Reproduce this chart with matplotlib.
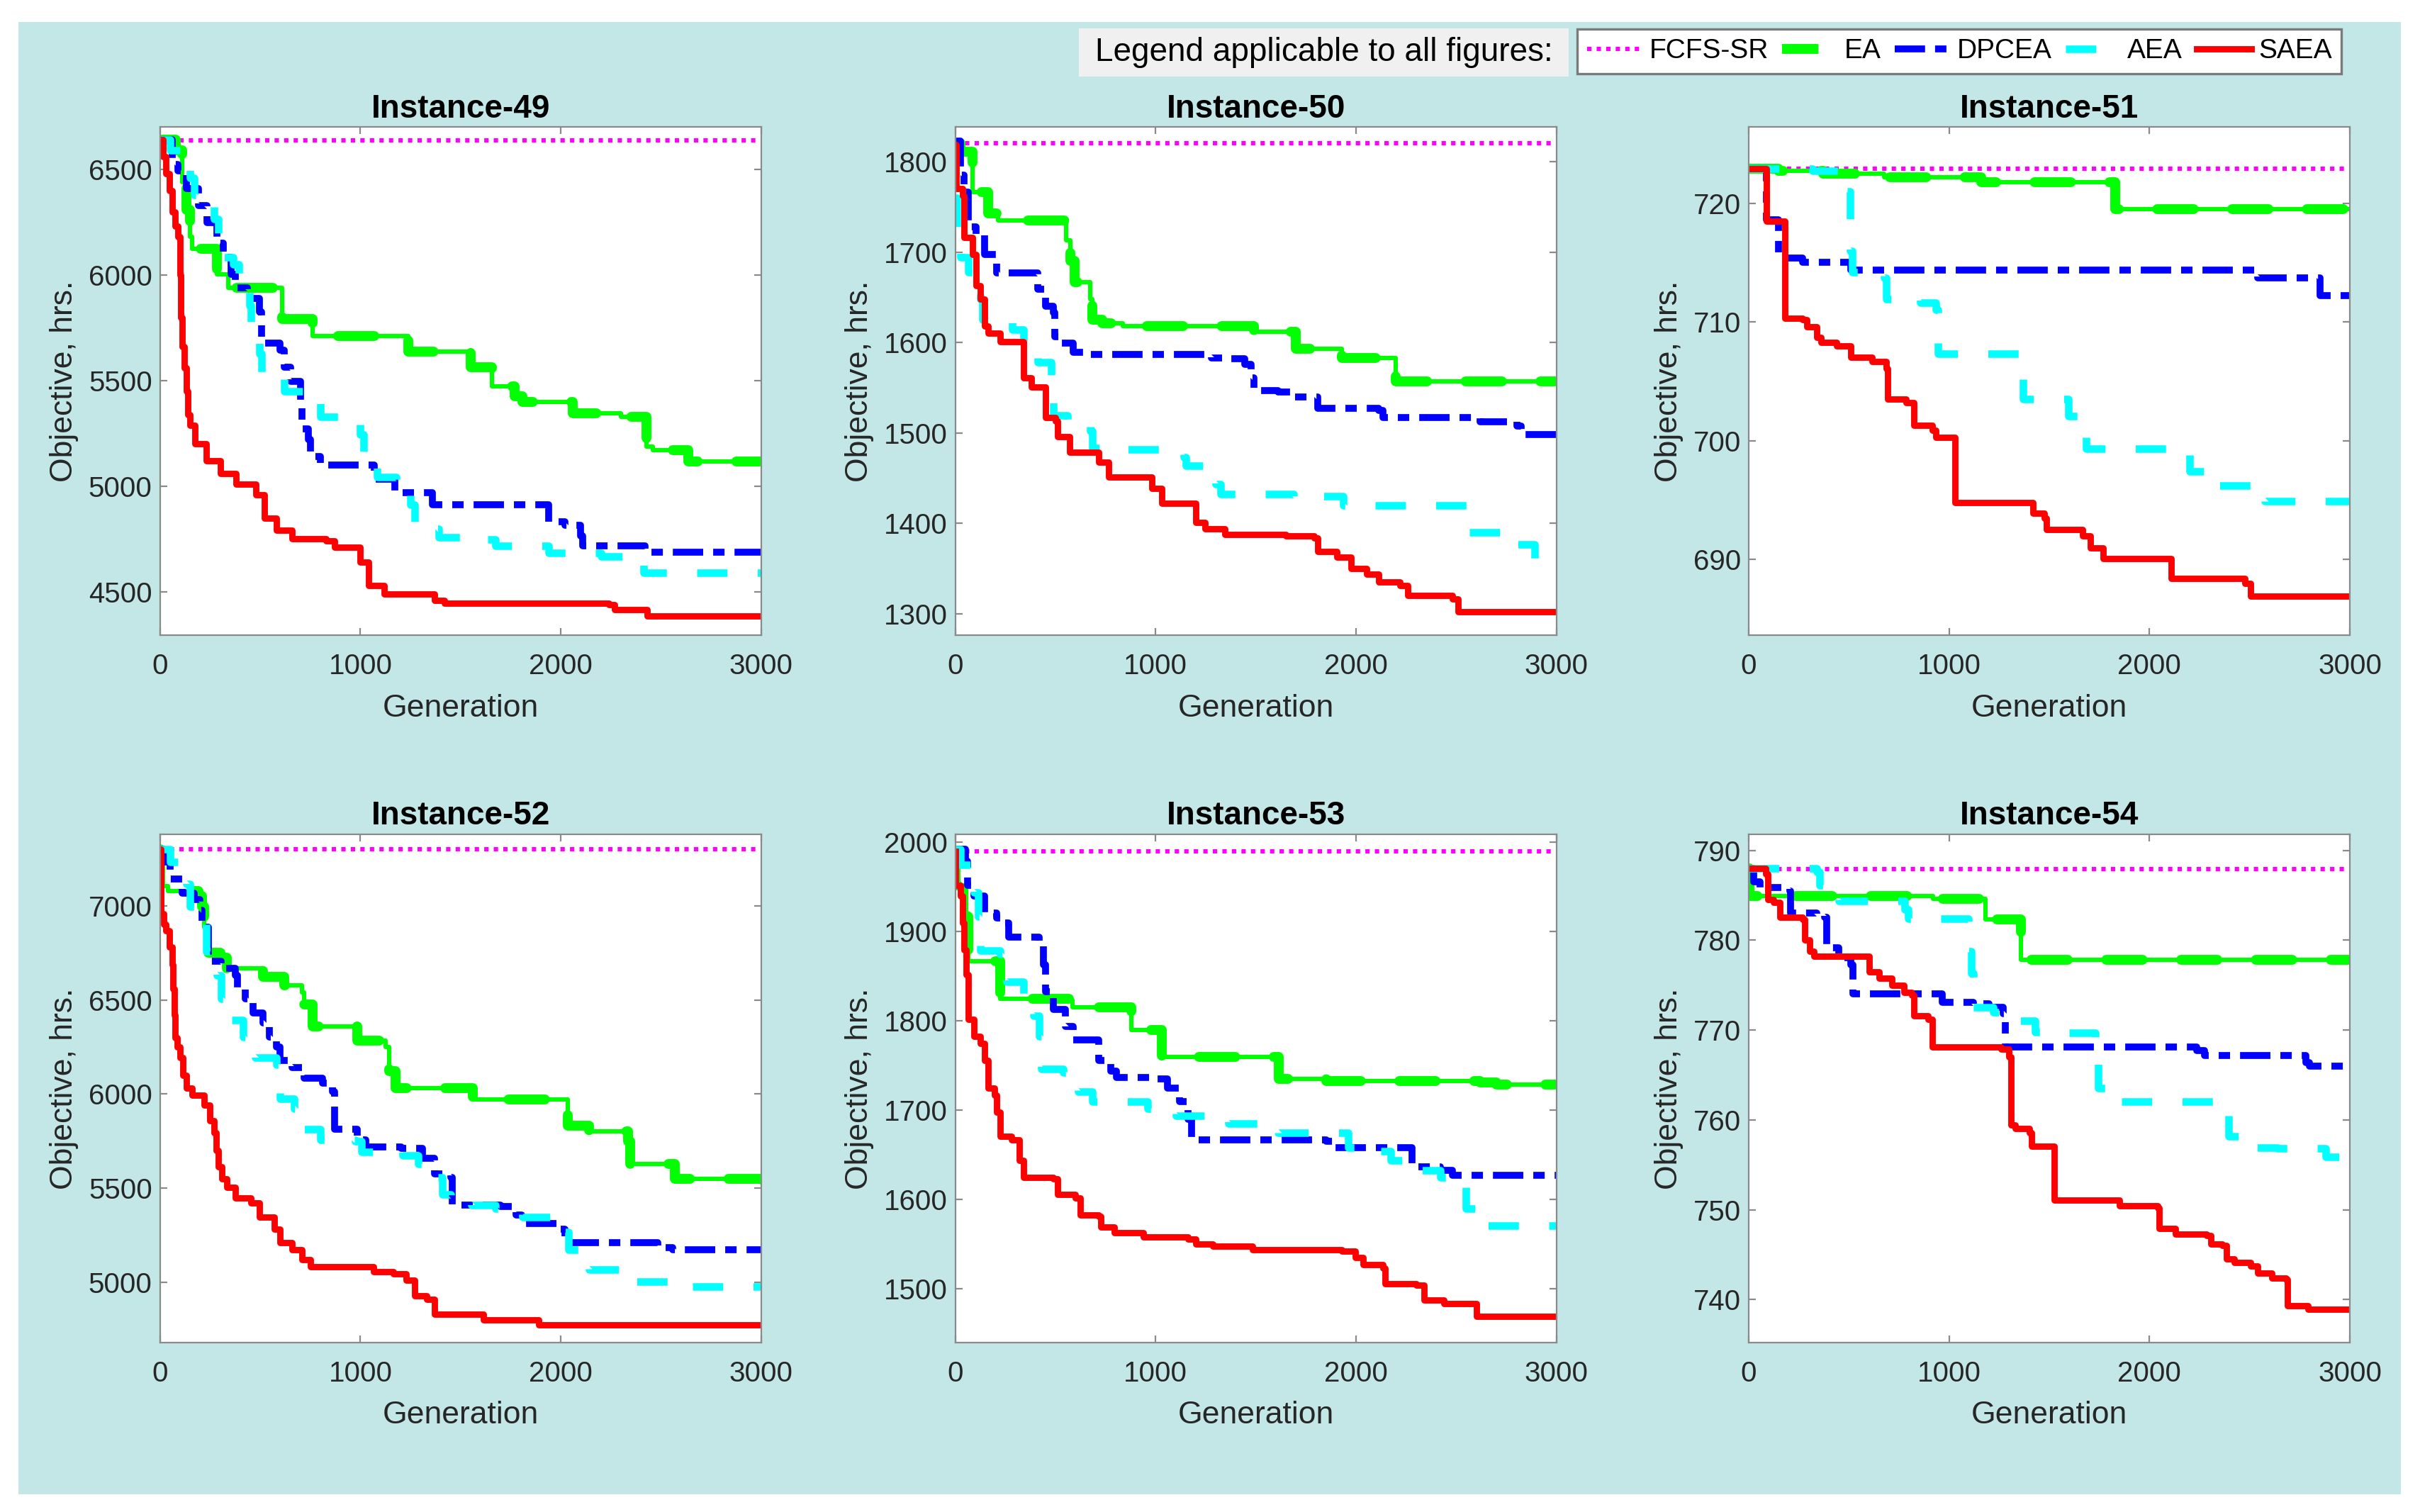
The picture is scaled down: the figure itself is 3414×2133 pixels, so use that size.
import matplotlib
matplotlib.use('Agg')
import matplotlib.pyplot as plt
from matplotlib.lines import Line2D
from matplotlib.patches import Rectangle

plt.rcParams['font.family'] = ['Liberation Sans', 'DejaVu Sans']

gen_ticks = [0, 1000, 2000, 3000]
series_names = ['FCFS-SR', 'EA', 'DPCEA', 'AEA', 'SAEA']

# ---------------- Instance-49 ----------------
fcfs_49 = 6638
ea_49_x = [0, 80, 110, 130, 150, 160, 285, 340, 610, 760, 1240, 1550, 1655, 1770, 1810, 2060, 2300, 2427, 2460, 2635, 3000]
ea_49_y = [6640, 6590, 6440, 6310, 6180, 6125, 6003, 5938, 5792, 5710, 5637, 5563, 5474, 5425, 5400, 5344, 5330, 5189, 5172, 5116, 5116]
dpcea_49_x = [0, 60, 90, 130, 190, 235, 285, 315, 355, 375, 435, 495, 505, 600, 620, 650, 700, 710, 740, 750, 800,
              1070, 1170, 1360, 1940, 2020, 2100, 2110, 2420, 3000]
dpcea_49_y = [6640, 6524, 6492, 6410, 6329, 6248, 6150, 6085, 6003, 5938, 5889, 5824, 5678, 5645, 5563, 5498, 5401, 5270, 5222, 5140, 5099,
              5034, 4969, 4912, 4831, 4815, 4766, 4717, 4688, 4688]
aea_49_x = [0, 50, 150, 170, 270, 290, 305, 365, 395, 445, 455, 495, 505, 620, 720, 800, 1000, 1015, 1085, 1180,
            1250, 1270, 1390, 1530, 1675, 1940, 2200, 2330, 2415, 3000]
aea_49_y = [6640, 6590, 6460, 6378, 6264, 6166, 6085, 6052, 5970, 5857, 5743, 5629, 5515, 5450, 5425, 5327, 5246, 5123, 5042, 5010,
            4912, 4798, 4757, 4749, 4717, 4684, 4668, 4660, 4590, 4590]
saea_49_x = [0, 15, 30, 45, 60, 75, 90, 100, 105, 110, 120, 130, 140, 150, 175, 230, 300, 380, 480, 520, 580, 660, 830, 870,
             1000, 1040, 1120, 1370, 1420, 2240, 2270, 2430, 3000]
saea_49_y = [6640, 6560, 6480, 6400, 6300, 6230, 6180, 6000, 5800, 5660, 5560, 5450, 5340, 5290, 5200, 5120, 5060, 5010, 4960, 4850, 4790, 4750, 4740, 4710,
             4640, 4530, 4490, 4460, 4445, 4440, 4415, 4385, 4385]

# ---------------- Instance-50 ----------------
fcfs_50 = 1820
ea_50_x = [0, 25, 85, 165, 215, 555, 575, 595, 675, 685, 735, 835, 1490, 1700, 1930, 2200, 3000]
ea_50_y = [1820, 1811, 1766, 1743, 1735, 1713, 1690, 1667, 1648, 1625, 1621, 1618, 1612, 1593, 1583, 1557, 1557]
dpcea_50_x = [0, 25, 45, 65, 105, 145, 205, 410, 450, 490, 495, 530, 590, 675, 1280, 1365, 1445, 1475, 1490, 1610,
              1670, 1810, 2115, 2135, 2620, 2805, 2825, 3000]
dpcea_50_y = [1823, 1785, 1766, 1728, 1720, 1697, 1677, 1659, 1640, 1633, 1606, 1599, 1589, 1587, 1583, 1582, 1576, 1561, 1547, 1545,
              1540, 1527, 1525, 1517, 1512, 1508, 1498, 1498]
aea_50_x = [0, 10, 25, 65, 125, 135, 285, 340, 410, 480, 490, 560, 675, 685, 735, 1140, 1150, 1300, 1325, 1690,
            1935, 2560, 2800, 2890, 3000]
aea_50_y = [1760, 1724, 1694, 1678, 1648, 1625, 1614, 1602, 1578, 1561, 1519, 1515, 1502, 1483, 1482, 1473, 1464, 1443, 1432, 1430,
            1420, 1390, 1377, 1358, 1358]
saea_50_x = [0, 5, 35, 45, 85, 105, 125, 145, 165, 225, 340, 380, 450, 500, 510, 570, 715, 765, 980, 1030, 1200, 1245,
             1345, 1650, 1790, 1810, 1905, 1975, 2055, 2115, 2220, 2260, 2480, 2510, 3000]
saea_50_y = [1819, 1770, 1762, 1716, 1697, 1663, 1648, 1618, 1610, 1601, 1561, 1551, 1517, 1513, 1496, 1479, 1468, 1451, 1439, 1422, 1401, 1394,
             1388, 1386, 1384, 1369, 1363, 1350, 1344, 1335, 1331, 1320, 1316, 1302, 1302]

# ---------------- Instance-51 ----------------
fcfs_51 = 722.9
ea_51_x = [0, 150, 370, 675, 1160, 1830, 3000]
ea_51_y = [722.9, 722.7, 722.5, 722.2, 721.8, 719.5, 719.5]
dpcea_51_x = [0, 90, 150, 270, 510, 2540, 2850, 3000]
dpcea_51_y = [722.9, 718.6, 715.4, 715.0, 714.4, 713.7, 712.2, 712.2]
aea_51_x = [0, 320, 490, 505, 515, 675, 685, 855, 935, 945, 1350, 1370, 1595, 1665, 1685, 2200, 2315, 2575, 3000]
aea_51_y = [722.9, 722.7, 721.0, 716.0, 714.2, 713.7, 711.9, 711.6, 711.0, 707.3, 705.2, 703.5, 702.1, 700.3, 699.3, 697.4, 696.2, 694.9, 694.9]
saea_51_x = [0, 90, 180, 270, 290, 340, 360, 440, 510, 615, 685, 695, 785, 825, 915, 935, 1030, 1420, 1475, 1485,
             1665, 1705, 1770, 2110, 2475, 2505, 3000]
saea_51_y = [722.9, 718.5, 710.3, 710.2, 709.6, 708.7, 708.3, 708.0, 707.0, 706.7, 706.1, 703.5, 703.2, 701.3, 700.9, 700.3, 694.8, 693.9, 693.5, 692.5,
             692.0, 691.0, 690.1, 688.4, 688.0, 686.9, 686.9]

# ---------------- Instance-52 ----------------
fcfs_52 = 7302
ea_52_x = [0, 2, 40, 190, 210, 220, 240, 300, 335, 515, 620, 710, 720, 760, 985, 1125, 1145, 1175, 1560, 2035, 2140,
           2335, 2345, 2570, 3000]
ea_52_y = [7302, 7105, 7078, 7051, 6996, 6887, 6750, 6723, 6669, 6623, 6577, 6541, 6477, 6359, 6286, 6250, 6122, 6031, 5970, 5831, 5803,
           5749, 5630, 5550, 5545]
dpcea_52_x = [0, 20, 50, 110, 170, 200, 210, 240, 305, 375, 385, 425, 465, 515, 545, 580, 600, 660, 720, 810, 860, 870,
              985, 1025, 1205, 1310, 1370, 1450, 1460, 1700, 1775, 1805, 1990, 2020, 2485, 2560, 3000]
dpcea_52_y = [7302, 7233, 7142, 7069, 7033, 6978, 6887, 6705, 6669, 6632, 6559, 6505, 6432, 6377, 6304, 6250, 6177, 6140, 6086, 6058, 6013, 5812,
              5758, 5721, 5712, 5658, 5576, 5557, 5412, 5403, 5357, 5312, 5284, 5211, 5184, 5175, 5175]
aea_52_x = [0, 50, 130, 150, 210, 230, 285, 305, 355, 415, 475, 580, 600, 670, 720, 800, 975, 1005, 1210, 1290, 1370,
            1410, 1450, 1555, 1675, 1810, 2000, 2040, 2140, 2375, 2650, 3000]
aea_52_y = [7302, 7233, 7115, 6996, 6923, 6760, 6632, 6505, 6395, 6304, 6195, 6158, 5976, 5922, 5812, 5758, 5749, 5694, 5676, 5630, 5557,
            5466, 5457, 5412, 5393, 5348, 5266, 5175, 5066, 5002, 4978, 4978]
saea_52_x = [0, 5, 20, 30, 45, 60, 65, 70, 75, 85, 100, 115, 130, 160, 220, 250, 270, 280, 290, 310, 335, 375, 455, 495,
             570, 600, 660, 710, 750, 1065, 1165, 1230, 1270, 1330, 1370, 1615, 1890, 3000]
saea_52_y = [7302, 6960, 6900, 6869, 6780, 6687, 6560, 6420, 6300, 6250, 6195, 6100, 6031, 5995, 5940, 5860, 5794, 5700, 5612, 5550, 5503, 5448, 5421, 5348,
             5284, 5211, 5175, 5120, 5084, 5056, 5047, 5011, 4929, 4911, 4829, 4801, 4774, 4774]

# ---------------- Instance-53 ----------------
fcfs_53 = 1989.6
ea_53_x = [0, 3, 55, 65, 225, 575, 585, 880, 1030, 1615, 1850, 2620, 2700, 3000]
ea_53_y = [1990, 1952, 1917, 1867, 1825, 1823, 1815, 1790, 1760, 1735, 1733, 1731, 1729, 1729]
dpcea_53_x = [0, 50, 60, 95, 145, 205, 245, 265, 420, 440, 450, 490, 550, 590, 715, 775, 805, 1000, 1060, 1120, 1160,
              1180, 1850, 1890, 2280, 2420, 2480, 3000]
dpcea_53_y = [1992, 1979, 1952, 1940, 1921, 1915, 1910, 1894, 1887, 1863, 1833, 1813, 1794, 1779, 1756, 1744, 1737, 1735, 1725, 1710, 1690,
              1667, 1665, 1658, 1637, 1633, 1627, 1627]
aea_53_x = [0, 25, 95, 115, 125, 225, 255, 340, 390, 420, 430, 540, 615, 685, 960, 1100, 1365, 1610, 1960, 2095, 2175,
            2320, 2420, 2550, 2640, 3000]
aea_53_y = [1992, 1975, 1944, 1917, 1879, 1875, 1844, 1829, 1806, 1783, 1746, 1742, 1721, 1710, 1702, 1694, 1685, 1675, 1658, 1654, 1644,
            1633, 1625, 1590, 1571, 1571]
saea_53_x = [0, 3, 25, 35, 45, 55, 65, 95, 125, 145, 165, 195, 205, 225, 280, 320, 340, 490, 510, 600, 625, 715, 725, 795,
             940, 1160, 1200, 1285, 1485, 1930, 1995, 2035, 2135, 2145, 2300, 2340, 2440, 2600, 3000]
saea_53_y = [1990, 1952, 1940, 1910, 1880, 1852, 1802, 1783, 1775, 1756, 1725, 1717, 1698, 1671, 1667, 1644, 1625, 1623, 1606, 1602, 1583, 1581, 1569, 1563,
             1558, 1556, 1550, 1548, 1544, 1542, 1535, 1527, 1523, 1506, 1504, 1488, 1484, 1469, 1469]

# ---------------- Instance-54 ----------------
fcfs_54 = 787.9
ea_54_x = [0, 5, 920, 1180, 1360, 3000]
ea_54_y = [788.0, 784.9, 784.6, 782.3, 777.8, 777.8]
dpcea_54_x = [0, 25, 55, 205, 210, 340, 380, 390, 450, 510, 520, 965, 1120, 1200, 1270, 1280, 2235, 2275, 2780, 2800, 3000]
dpcea_54_y = [788.0, 786.5, 785.9, 785.5, 783.0, 782.8, 782.6, 779.2, 778.1, 777.3, 774.0, 773.1, 772.9, 772.5, 771.8, 768.1, 767.7, 767.2, 766.4, 766.0, 766.0]
aea_54_x = [0, 340, 355, 450, 780, 795, 1095, 1110, 1120, 1220, 1320, 1430, 1565, 1730, 1745, 1830, 2365, 2395, 2505,
            2640, 2880, 2985, 3000]
aea_54_y = [788.0, 787.6, 786.1, 784.4, 783.4, 782.4, 778.8, 776.3, 772.5, 772.0, 771.0, 769.8, 769.7, 766.6, 763.5, 762.0, 760.7, 758.2, 756.9,
            756.8, 755.9, 754.2, 754.2]
saea_54_x = [0, 85, 95, 125, 155, 270, 278, 305, 325, 600, 650, 715, 775, 815, 825, 895, 915, 1260, 1300, 1310, 1330,
             1400, 1410, 1525, 1850, 2040, 2050, 2130, 2285, 2305, 2365, 2385, 2425, 2505, 2540, 2610, 2680, 2690, 2790, 3000]
saea_54_y = [788.0, 787.4, 784.5, 784.2, 782.6, 782.3, 780.0, 778.8, 778.2, 776.5, 775.8, 775.0, 774.2, 773.9, 771.6, 771.2, 768.1, 767.9, 767.0, 759.4, 759.0,
             758.6, 757.1, 751.1, 750.4, 750.2, 747.9, 747.3, 747.1, 746.2, 746.0, 744.5, 744.1, 743.7, 742.9, 742.4, 742.2, 739.3, 738.9, 738.9]

titles = ['Instance-49', 'Instance-50', 'Instance-51', 'Instance-52', 'Instance-53', 'Instance-54']
yticks_all = [[4500, 5000, 5500, 6000, 6500],
              [1300, 1400, 1500, 1600, 1700, 1800],
              [690, 700, 710, 720],
              [5000, 5500, 6000, 6500, 7000],
              [1500, 1600, 1700, 1800, 1900, 2000],
              [740, 750, 760, 770, 780, 790]]

panels = [
    (fcfs_49, ea_49_x, ea_49_y, dpcea_49_x, dpcea_49_y, aea_49_x, aea_49_y, saea_49_x, saea_49_y),
    (fcfs_50, ea_50_x, ea_50_y, dpcea_50_x, dpcea_50_y, aea_50_x, aea_50_y, saea_50_x, saea_50_y),
    (fcfs_51, ea_51_x, ea_51_y, dpcea_51_x, dpcea_51_y, aea_51_x, aea_51_y, saea_51_x, saea_51_y),
    (fcfs_52, ea_52_x, ea_52_y, dpcea_52_x, dpcea_52_y, aea_52_x, aea_52_y, saea_52_x, saea_52_y),
    (fcfs_53, ea_53_x, ea_53_y, dpcea_53_x, dpcea_53_y, aea_53_x, aea_53_y, saea_53_x, saea_53_y),
    (fcfs_54, ea_54_x, ea_54_y, dpcea_54_x, dpcea_54_y, aea_54_x, aea_54_y, saea_54_x, saea_54_y),
]

# axis limits (layout, not data)
ylims = [(4293, 6700), (1276, 1838), (683.6, 726.4), (4680, 7380), (1440, 2009), (735.2, 791.8)]

# line styles
c_fcfs, c_ea, c_dp, c_aea, c_saea = '#ff00ff', '#00ff00', '#0000ff', '#00ffff', '#ff0000'
lw_fcfs, lw_ea, lw_ea_blob, lw_dp, lw_aea, lw_saea = 2.2, 2.2, 5.0, 3.5, 3.8, 3.2
ls_fcfs = (0, (1, 1.2))
ls_dp = (0, (4.4, 1.45, 1.65, 1.45))
ls_aea = (0, (4.05, 4.05))
ls_ea = (0, (3.7, 3.9))

fig = plt.figure(figsize=(17.07, 10.665), dpi=200)
fig.patches.append(Rectangle((0.0076, 0.0117), 0.9845, 0.974, transform=fig.transFigure,
                             facecolor='#c2e7e6', edgecolor='none', zorder=-10))

lefts = [0.06614, 0.39473, 0.72261]
bottoms = [0.5797, 0.11205]
w, h = 0.24839, 0.33615

for i, p in enumerate(panels):
    fcfs, ea_x, ea_y, dp_x, dp_y, aea_x, aea_y, sa_x, sa_y = p
    ax = fig.add_axes([lefts[i % 3], bottoms[i // 3], w, h])
    ax.set_facecolor('white')

    ax.axhline(fcfs, color=c_fcfs, lw=lw_fcfs, ls=ls_fcfs)
    ax.plot(ea_x, ea_y, drawstyle='steps-post', color=c_ea, lw=lw_ea)
    ax.plot(ea_x, ea_y, drawstyle='steps-post', color=c_ea, lw=lw_ea_blob, ls=ls_ea, dash_capstyle='round')
    ax.plot(dp_x, dp_y, drawstyle='steps-post', color=c_dp, lw=lw_dp, ls=ls_dp)
    ax.plot(aea_x, aea_y, drawstyle='steps-post', color=c_aea, lw=lw_aea, ls=ls_aea)
    ax.plot(sa_x, sa_y, drawstyle='steps-post', color=c_saea, lw=lw_saea)

    ax.set_xlim(0, 3000)
    ax.set_ylim(*ylims[i])
    ax.set_xticks(gen_ticks)
    ax.set_yticks(yticks_all[i])
    ax.tick_params(direction='in', top=True, right=True, length=3.5, width=0.8,
                   color='#8a8a8a', labelsize=14.5, labelcolor='#262626')
    ax.tick_params(axis='x', pad=9)
    ax.tick_params(axis='y', pad=4)
    for s in ax.spines.values():
        s.set_color('#8a8a8a')
        s.set_linewidth(0.8)

    ax.set_title(titles[i], fontsize=16.5, fontweight='bold', pad=5)
    ax.set_xlabel('Generation', fontsize=16, color='#262626', labelpad=7)
    ax.set_ylabel('Objective, hrs.', fontsize=16, color='#262626', labelpad=5)

# shared legend at the top
fig.patches.append(Rectangle((0.4458, 0.9494), 0.2024, 0.0319, transform=fig.transFigure,
                             facecolor='#f0f0f0', edgecolor='none', zorder=1))
fig.text(0.5470, 0.9653, 'Legend applicable to all figures:', ha='center', va='center', fontsize=16.5)

handles = [
    Line2D([], [], color=c_fcfs, lw=lw_fcfs, ls=ls_fcfs),
    Line2D([], [], color=c_ea, lw=lw_ea_blob, ls=ls_ea),
    Line2D([], [], color=c_dp, lw=lw_dp, ls=ls_dp),
    Line2D([], [], color=c_aea, lw=lw_aea, ls=ls_aea),
    Line2D([], [], color=c_saea, lw=lw_saea),
]
leg = fig.legend(handles, series_names, loc='center', bbox_to_anchor=(0.8097, 0.9661), ncol=5,
                 fontsize=14, fancybox=False, edgecolor='#7a7a7a', framealpha=1,
                 handlelength=2.0, handletextpad=0.25, columnspacing=0.5, borderpad=0.35)
leg.get_frame().set_linewidth(1.2)

fig.savefig('out.png', dpi=200)
